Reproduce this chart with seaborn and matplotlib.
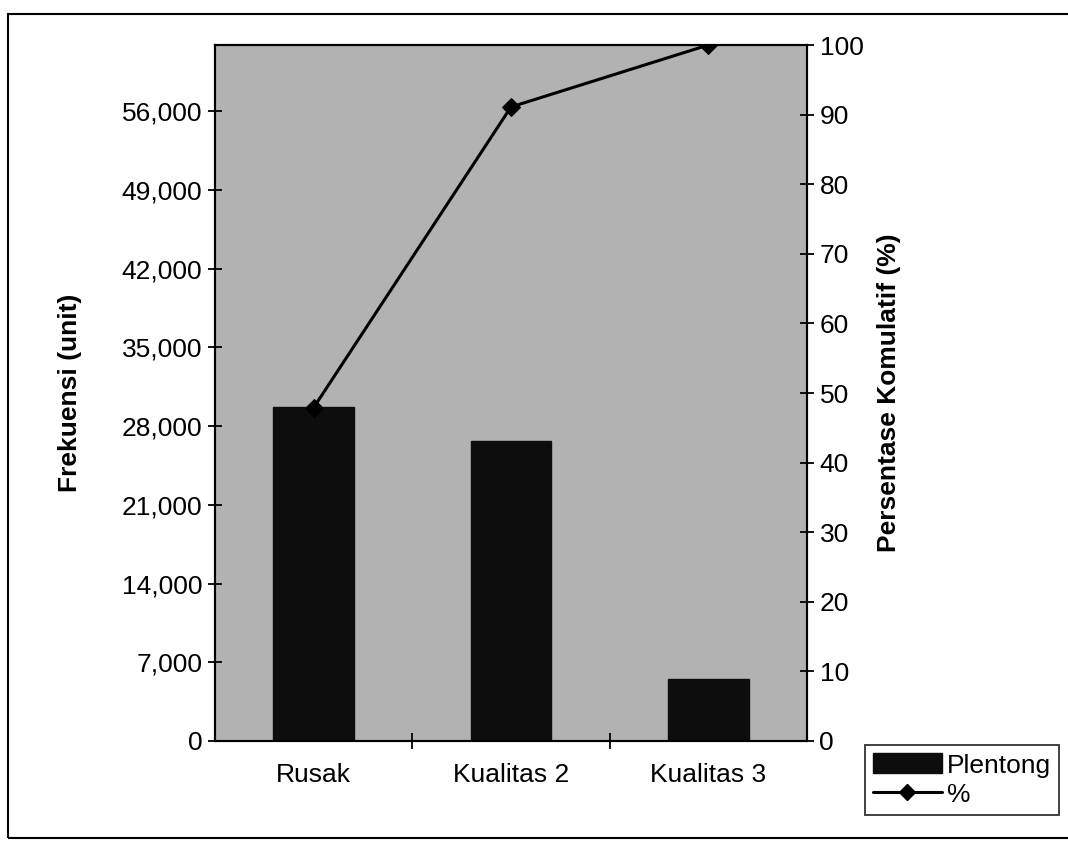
import matplotlib
matplotlib.use("Agg")
import matplotlib.pyplot as plt
import seaborn as sns
import numpy as np
from matplotlib.patches import Rectangle, Patch
from matplotlib.lines import Line2D
from matplotlib.ticker import FuncFormatter, FixedLocator

# ---- data ----
categories = ["Rusak", "Kualitas 2", "Kualitas 3"]
frekuensi = [29700, 26700, 5500]
kumulatif = [47.9, 91.1, 100.0]
left_ticks = [0, 7000, 14000, 21000, 28000, 35000, 42000, 49000, 56000]
right_ticks = [0, 10, 20, 30, 40, 50, 60, 70, 80, 90, 100]
bar_label = "Plentong"
line_label = "%"

sns.set_theme(style="white")
plt.rcParams['font.family'] = ['Liberation Sans', 'DejaVu Sans']
plt.rcParams['text.color'] = 'black'
plt.rcParams['axes.labelcolor'] = 'black'
plt.rcParams['xtick.color'] = 'black'
plt.rcParams['ytick.color'] = 'black'

FS = 19

fig = plt.figure(figsize=(10.68, 8.48), dpi=100)
ax = fig.add_axes([215/1068, 1-741/848, (807-215)/1068, (741-45)/848])
ax.set_facecolor("#b2b2b2")

sns.barplot(x=categories, y=frekuensi, ax=ax, color="#0d0d0d", width=0.41,
            saturation=1, edgecolor="#0d0d0d")
ax.set_xlim(-0.5, 2.5)
ax.set_ylim(0, sum(frekuensi))
ax.yaxis.set_major_locator(FixedLocator(left_ticks))
ax.yaxis.set_major_formatter(FuncFormatter(lambda v, p: f"{int(v):,}"))
ax.set_ylabel("Frekuensi (unit)", fontsize=FS, fontweight="bold", labelpad=29,
              color="black")
ax.set_xlabel("")

for s in ax.spines.values():
    s.set_color("black")
    s.set_linewidth(1.5)

ax.tick_params(axis="y", which="major", direction="inout", length=10, width=1.3,
               colors="black", labelsize=FS, pad=4, left=True)
ax.tick_params(axis="x", which="major", length=0, labelsize=FS, pad=16, colors="black")
ax.set_xticks([0.5, 1.5], minor=True)
ax.tick_params(axis="x", which="minor", direction="inout", length=12, width=1.3,
               colors="black", bottom=True)

ax2 = ax.twinx()
sns.lineplot(x=[0, 1, 2], y=kumulatif, ax=ax2, color="black", linewidth=2.2,
             marker="D", markersize=9, markeredgecolor="black", sort=False)
ax2.set_xlim(-0.5, 2.5)
ax2.set_ylim(0, 100)
ax2.yaxis.set_major_locator(FixedLocator(right_ticks))
ax2.set_ylabel("Persentase Komulatif (%)", fontsize=FS, fontweight="bold",
               labelpad=10, color="black")
ax2.tick_params(axis="y", which="major", direction="inout", length=10, width=1.3,
                colors="black", labelsize=FS, pad=4, right=True)
for s in ax2.spines.values():
    s.set_color("black")
    s.set_linewidth(1.5)

# legend
handles = [Patch(facecolor="#0d0d0d", edgecolor="#0d0d0d", label=bar_label),
           Line2D([0], [0], color="black", lw=2.2, marker="D", markersize=8,
                  label=line_label)]
leg = fig.legend(handles=handles, loc="upper left", bbox_to_anchor=(0.81, 0.121),
                 frameon=True, fancybox=False, fontsize=FS, handlelength=2.6,
                 handleheight=0.8, borderpad=0.3, labelspacing=0.2,
                 handletextpad=0.2, borderaxespad=0)
leg.get_frame().set_edgecolor("black")
leg.get_frame().set_linewidth(1.3)

# outer border
fig.patches.append(Rectangle((8/1068, 1-838/848), 1.2, (838-14)/848,
                             transform=fig.transFigure, fill=False,
                             edgecolor="black", linewidth=1.5))

fig.savefig("out.png", dpi=100)
